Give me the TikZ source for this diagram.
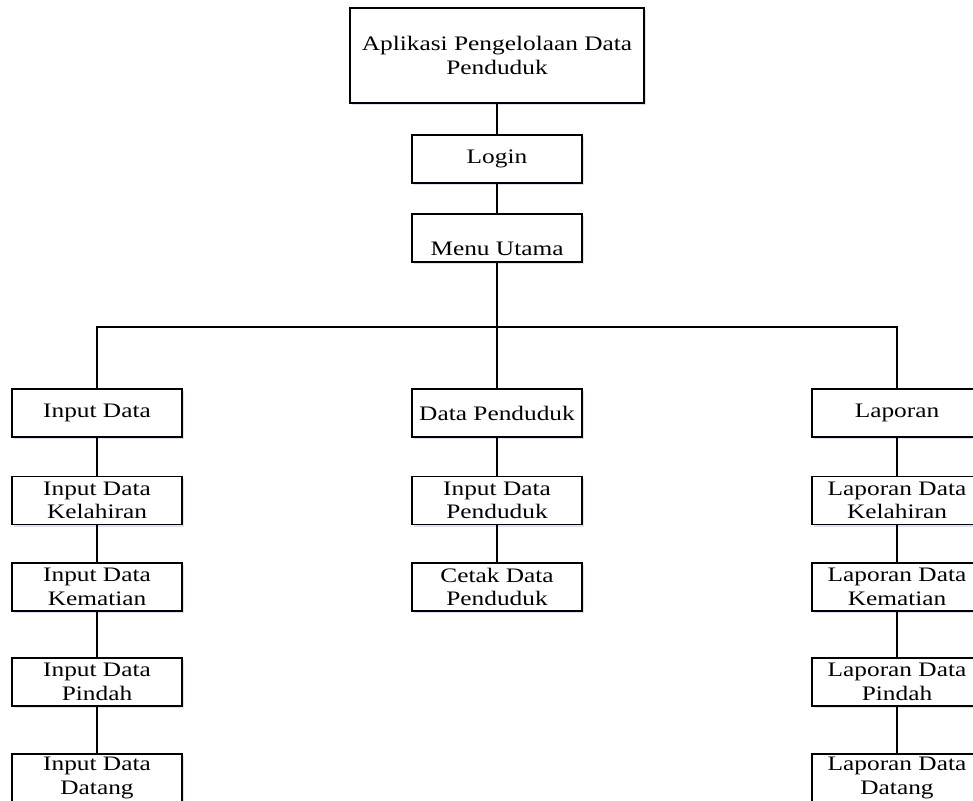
\documentclass[tikz,border=0pt]{standalone}
\usepackage{fontspec}
\setmainfont[FakeStretch=1.23]{Liberation Serif}
\usetikzlibrary{shadows}
\begin{document}
\begin{tikzpicture}[x=0.5pt,y=-0.5pt,
  box/.style={draw,line width=0.75pt,fill=white,inner sep=0pt,align=center,
    minimum width=85pt,minimum height=24pt,
    font=\fontsize{10.3pt}{11.7pt}\selectfont,
    drop shadow={shadow xshift=0.8pt,shadow yshift=-1pt,fill=blue!40!gray,opacity=0.18}},
  link/.style={line width=1pt}]
\clip (0,0) rectangle (973,801);
\node[box,minimum width=147pt,minimum height=47.5pt] (app) at (497,55.5){Aplikasi Pengelolaan Data\\Penduduk};
\node[box] (login) at (497,159){Login};
\node[box,text height=19pt,text depth=1pt] (menu) at (497,238){Menu Utama};
\coordinate (bus) at (497,327);
\node[box] (inputdata) at (97,413){Input Data};
\node[box] (datapend) at (497,413){Data Penduduk};
\node[box] (laporan) at (897,413){Laporan};
\node[box] (inlahir) at (97,500.5){Input Data\\Kelahiran};
\node[box] (inmati) at (97,587){Input Data\\Kematian};
\node[box] (inpindah) at (97,682){Input Data\\Pindah};
\node[box] (indatang) at (97,778){Input Data\\Datang};
\node[box] (inpend) at (497,500.5){Input Data\\Penduduk};
\node[box] (cetakpend) at (497,587){Cetak Data\\Penduduk};
\node[box] (laplahir) at (897,500.5){Laporan Data\\Kelahiran};
\node[box] (lapmati) at (897,587){Laporan Data\\Kematian};
\node[box] (lappindah) at (897,682){Laporan Data\\Pindah};
\node[box] (lapdatang) at (897,778){Laporan Data\\Datang};
% menu tree
\draw[link] (app) -- (login);
\draw[link] (login) -- (menu);
\draw[link] (menu) -- (datapend);
\draw[link] (inputdata.north) |- (bus) -| (laporan.north);
\draw[link] (inputdata) -- (inlahir);
\draw[link] (inlahir) -- (inmati);
\draw[link] (inmati) -- (inpindah);
\draw[link] (inpindah) -- (indatang);
\draw[link] (datapend) -- (inpend);
\draw[link] (inpend) -- (cetakpend);
\draw[link] (laporan) -- (laplahir);
\draw[link] (laplahir) -- (lapmati);
\draw[link] (lapmati) -- (lappindah);
\draw[link] (lappindah) -- (lapdatang);
\end{tikzpicture}
\end{document}
